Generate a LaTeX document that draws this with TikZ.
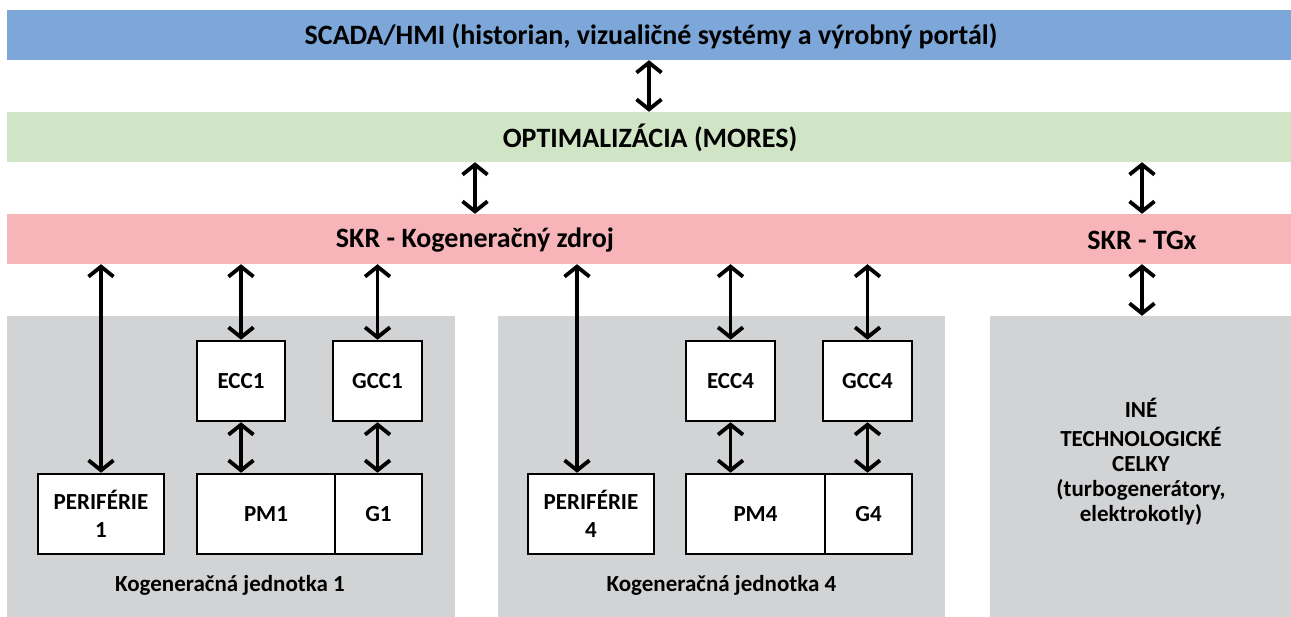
\documentclass[tikz,border=0pt]{standalone}
\usepackage{fontspec}
\setmainfont{Carlito}
\usetikzlibrary{arrows.meta}
\definecolor{cblue}{HTML}{7CA7D8}
\definecolor{cgreen}{HTML}{D0E5C5}
\definecolor{cpink}{HTML}{F8B5B9}
\definecolor{cgray}{HTML}{D2D3D5}
\begin{document}
\begin{tikzpicture}[x=1pt,y=-1pt,
  bar/.style={draw=none,inner sep=0pt,minimum width=1284pt,minimum height=50pt},
  bartext/.style={inner sep=0pt,font=\fontsize{28}{33}\selectfont\bfseries},
  group/.style={draw=none,fill=cgray,inner sep=0pt,minimum height=301pt},
  unit/.style={draw=black,line width=2.5pt,fill=white,inner sep=0pt,minimum height=80pt,align=center,font=\fontsize{23}{28}\selectfont\bfseries},
  lbl/.style={inner sep=0pt,align=center,font=\fontsize{23}{25}\selectfont\bfseries},
  arr/.style={{Straight Barb[length=10pt,width=25pt]}-{Straight Barb[length=10pt,width=25pt]},line width=3.8pt},
]
\useasboundingbox (0,0) rectangle (1291,617);
% bars
\node[bar,fill=cblue] (scada) at (649,35) {};
\node[bar,fill=cgreen] (opt) at (649,137) {};
\node[bar,fill=cpink] (skr) at (649,239) {};
\node[bartext] (scadat) at (651,36) {SCADA/HMI (historian, vizualičné systémy a výrobný portál)};
\node[bartext] (optt) at (650,138) {OPTIMALIZÁCIA (MORES)};
\node[bartext] (skrk) at (475,240) {SKR - Kogeneračný zdroj};
\node[bartext] (skrtgx) at (1142,240) {SKR - TGx};
% groups
\node[group,minimum width=448pt] (g1) at (231,466.5) {};
\node[group,minimum width=447pt] (g4) at (721.5,466.5) {};
\node[group,minimum width=301pt] (g3) at (1140.5,466.5) {};
\node[lbl] (kj1) at (230,585) {Kogeneračná jednotka 1};
\node[lbl] (kj4) at (721.5,585) {Kogeneračná jednotka 4};
\node[lbl] (ine) at (1141,462) {INÉ\\[4pt]TECHNOLOGICKÉ\\CELKY\\(turbogenerátory,\\elektrokotly)};
% unit 1
\node[unit,minimum width=126pt] (per1) at (101,514) {PERIFÉRIE\\1};
\node[unit,minimum width=88pt] (ecc1) at (241,381) {ECC1};
\node[unit,minimum width=89pt] (gcc1) at (377.5,381) {GCC1};
\node[unit,minimum width=138pt] (pm1) at (266,514) {PM1};
\node[unit,minimum width=87pt] (gen1) at (378.5,514) {G1};
% unit 4
\node[unit,minimum width=126pt] (per4) at (591,514) {PERIFÉRIE\\4};
\node[unit,minimum width=89pt] (ecc4) at (730.5,381) {ECC4};
\node[unit,minimum width=89pt] (gcc4) at (867.5,381) {GCC4};
\node[unit,minimum width=139pt] (pm4) at (755.5,514) {PM4};
\node[unit,minimum width=87pt] (gen4) at (868.5,514) {G4};
\coordinate (p4in) at (577,472.75);
% arrows
\draw[arr] (scada.south) -- (opt.north);
\draw[arr] (skrk |- opt.south) -- (skrk |- skr.north);
\draw[arr] (skrtgx |- opt.south) -- (skrtgx |- skr.north);
\draw[arr] (skrtgx |- skr.south) -- (skrtgx |- g3.north);
\draw[arr] (per1 |- skr.south) -- (per1.north);
\draw[arr] (ecc1 |- skr.south) -- (ecc1.north);
\draw[arr] (gcc1 |- skr.south) -- (gcc1.north);
\draw[arr] (ecc1.south) -- (ecc1.south |- pm1.north);
\draw[arr] (gcc1.south) -- (gcc1.south |- gen1.north);
\draw[arr] (p4in |- skr.south) -- (p4in);
\draw[arr] (ecc4 |- skr.south) -- (ecc4.north);
\draw[arr] (gcc4 |- skr.south) -- (gcc4.north);
\draw[arr] (ecc4.south) -- (ecc4.south |- pm4.north);
\draw[arr] (gcc4.south) -- (gcc4.south |- gen4.north);
\end{tikzpicture}
\end{document}
